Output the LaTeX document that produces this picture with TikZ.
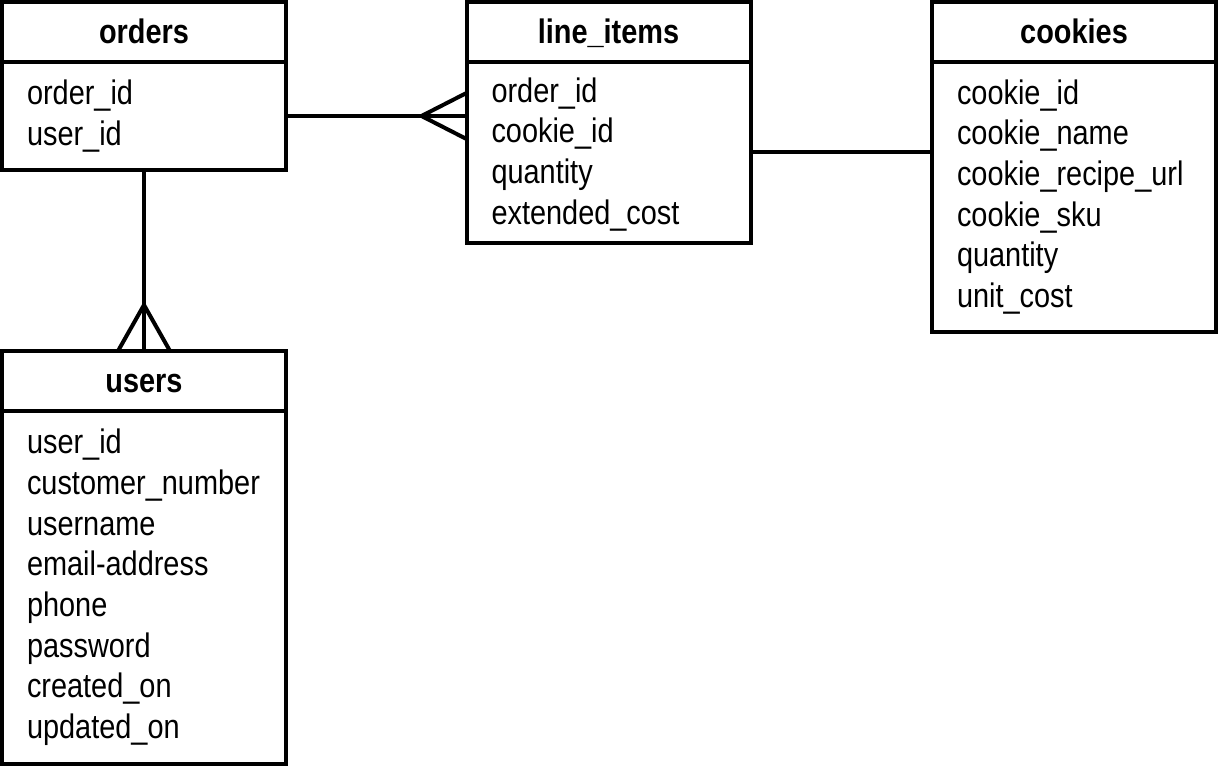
\documentclass[tikz,border=0pt]{standalone}
\usepackage{fontspec}
\setmainfont[FakeStretch=0.85]{Liberation Sans}
\usetikzlibrary{calc}
\newcommand{\Px}{0.75pt}
\tikzset{Head/.style={
    inner sep=0pt,
    outer sep=0pt,
    minimum width=213pt,
    minimum height=45pt,
    text height=18pt,
    text depth=0pt,
    draw=black,
    font=\fontsize{25.5}{30.5}\selectfont\bfseries,
    }
}
\begin{document}
\begin{tikzpicture}[draw=black, line width=3pt, x=\Px, y=-\Px,
    b/.style={inner xsep=18.75pt,
    inner ysep=0pt,
    outer sep=0pt,
    minimum width=213pt,
    text width=175.5pt,
    align=left,
    draw=black,
    anchor=north,
    font=\fontsize{25.5}{30.5}\selectfont,
    },
]
\useasboundingbox (0,0) rectangle (1218,766);
% tables
\node [Head] (orders) at (144,32) {orders};
\node [b, minimum height=81pt] (orders-body) at (orders.south)
    {order\_id\\user\_id};
\node [Head] (items) at (608.5,32) {line\_items};
\node [b, minimum height=135.75pt] (items-body) at (items.south)
    {\rule{0pt}{21pt}order\_id\\cookie\_id\\quantity\\extended\_cost};
\node [Head] (cookies) at (1074,32) {cookies};
\node [b, minimum height=202.5pt] (cookies-body) at (cookies.south)
    {cookie\_id\\cookie\_name\\cookie\_recipe\_url\\cookie\_sku\\quantity\\unit\_cost};
\node [Head] (users) at (144,381) {users};
\node [b, minimum height=264.75pt] (users-body) at (users.south)
    {user\_id\\customer\_number\\username\\email-address\\phone\\password\\created\_on\\updated\_on};
% relations
\coordinate (oi) at (orders-body.east -| items-body.west);
\draw (orders-body.east) -- (oi);
\draw ($(oi)+(0,-23)$) -- ($(oi)+(-45,0)$) -- ($(oi)+(0,23)$);
\coordinate (uo) at (users.north);
\draw (orders-body.south) -- (uo);
\draw ($(uo)+(-26,0)$) -- ($(uo)+(0,-46)$) -- ($(uo)+(26,0)$);
\draw (items-body.east) -- (items-body.east -| cookies-body.west);
\end{tikzpicture}
\end{document}
